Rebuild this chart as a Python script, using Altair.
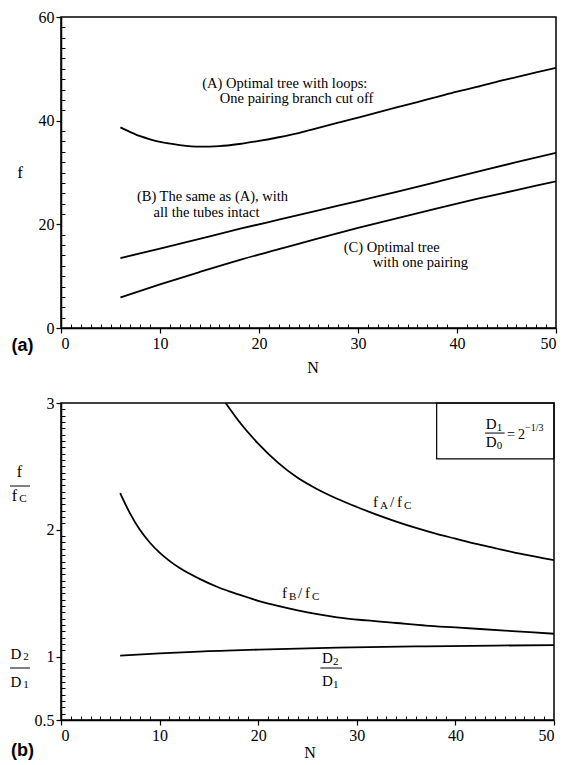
import altair as alt
import pandas as pd

# ---------------- panel (a): f versus N ----------------
N_A = [6, 7, 8, 9, 10, 12, 14, 16, 18, 20, 22, 24, 26, 28, 30, 32, 34, 36, 38, 40, 42, 44, 46, 48, 50]
F_A = [38.7, 37.8, 37.0, 36.4, 35.9, 35.3, 35.0, 35.1, 35.5, 36.1, 36.8, 37.6, 38.6, 39.6, 40.6,
       41.6, 42.6, 43.6, 44.6, 45.6, 46.5, 47.5, 48.4, 49.3, 50.2]
N_B = [6, 10, 14, 18, 22, 26, 30, 34, 38, 42, 46, 50]
F_B = [13.5, 15.3, 17.2, 19.1, 20.9, 22.7, 24.5, 26.3, 28.2, 30.1, 32.0, 33.8]
N_C = [6, 10, 14, 18, 22, 26, 30, 34, 38, 42, 46, 50]
F_C = [5.9, 8.4, 10.8, 13.1, 15.2, 17.3, 19.3, 21.2, 23.1, 24.9, 26.6, 28.3]

# ---------------- panel (b): ratios versus N ----------------
N_AC = [16.7, 18, 20, 22, 24, 26, 28, 30, 32, 34, 36, 38, 40, 42, 44, 46, 48, 50]
R_AC = [3.00, 2.86, 2.68, 2.53, 2.41, 2.32, 2.245, 2.18, 2.12, 2.065, 2.015, 1.97, 1.93, 1.89,
        1.855, 1.82, 1.79, 1.76]
N_BC = [6, 7, 8, 9, 10, 11, 12, 14, 16, 18, 20, 22, 24, 26, 28, 31, 34, 37, 40, 45, 50]
R_BC = [2.29, 2.13, 2.00, 1.90, 1.82, 1.755, 1.70, 1.615, 1.545, 1.49, 1.44, 1.40, 1.365, 1.335,
        1.31, 1.285, 1.265, 1.245, 1.23, 1.205, 1.18]
N_D = [6, 10, 14, 20, 28, 36, 44, 50]
R_D = [1.007, 1.025, 1.04, 1.055, 1.07, 1.08, 1.087, 1.09]

# axis ticks
X_MAJOR = [0, 10, 20, 30, 40, 50]
X_MINOR = [i for i in range(0, 51) if i % 10]
YA_MAJOR = [0, 20, 40, 60]
YA_MINOR = [i for i in range(0, 61, 2) if i % 20]
YB_MAJOR = [0.5, 1, 2, 3]
YB_MINOR = [round(0.5 + 0.05 * i, 2) for i in range(0, 51) if round(0.5 + 0.05 * i, 2) not in (0.5, 1.0, 2.0, 3.0)]

# in-plot annotations of panel (a): text, N, f
ANN_A = [
    ("(A) Optimal tree with loops:", 22.6, 47.1),
    ("One pairing branch cut off", 23.8, 44.2),
    ("(B) The same as (A), with", 15.3, 25.3),
    ("all the tubes intact", 14.7, 22.2),
    ("(C) Optimal tree", 33.4, 15.4),
    ("with one pairing", 36.3, 12.5),
]
# box in panel (b)
BOX_B = dict(N=38.1, N2=50, v=2.56, v2=3.0)

SERIF = "Liberation Serif"
SANS = "Liberation Sans"

xs = alt.Scale(domain=[0, 50], nice=False, zero=False)
ys_a = alt.Scale(domain=[0, 60], nice=False, zero=False)
ys_b = alt.Scale(domain=[0.5, 3], nice=False, zero=False)

W_A, H_A = 495, 311
W_B, H_B = 493, 317


def long_df(pairs):
    rows = []
    for name, ns, vs in pairs:
        for n, v in zip(ns, vs):
            rows.append({"N": n, "v": v, "s": name})
    return pd.DataFrame(rows)


def major_axis(values, orient):
    return alt.Axis(values=values, orient=orient, labelExpr="'' + datum.value", tickSize=5,
                    labelPadding=2, title=None, grid=False)


def minor_axis(values, orient):
    return alt.Axis(values=values, orient=orient, tickSize=4, offset=-4, labels=False,
                    domain=False, title=None, grid=False, tickWidth=1)


def dtext(t, n, v, ys, size=14.5, dx=0, dy=0, align="center", font=SERIF, weight="normal"):
    df = pd.DataFrame({"N": [n], "v": [v], "t": [t]})
    return alt.Chart(df).mark_text(font=font, fontSize=size, dx=dx, dy=dy, align=align,
                                   baseline="middle", color="black", fontWeight=weight).encode(
        x=alt.X("N:Q", scale=xs, axis=None),
        y=alt.Y("v:Q", scale=ys, axis=None),
        text="t:N")


def ptext(t, px, py, size=16, align="center", font=SERIF, weight="normal"):
    df = pd.DataFrame({"t": [t]})
    return alt.Chart(df).mark_text(font=font, fontSize=size, align=align, baseline="middle",
                                   color="black", fontWeight=weight).encode(
        x=alt.value(px), y=alt.value(py), text="t:N")


def prule(x1, x2, y):
    return alt.Chart(pd.DataFrame({"k": [0]})).mark_rule(color="black", strokeWidth=1).encode(
        x=alt.value(x1), x2=alt.value(x2), y=alt.value(y))


def drule(n1, n2, v, ys):
    df = pd.DataFrame({"N": [n1], "N2": [n2], "v": [v]})
    return alt.Chart(df).mark_rule(color="black", strokeWidth=1).encode(
        x=alt.X("N:Q", scale=xs, axis=None), x2="N2:Q",
        y=alt.Y("v:Q", scale=ys, axis=None))


def line_layers(df, ys, ymajor, yminor):
    lines = alt.Chart(df).mark_line(color="black", strokeWidth=1.8, interpolate="monotone",
                                    clip=True).encode(
        x=alt.X("N:Q", scale=xs, axis=major_axis(X_MAJOR, "bottom")),
        y=alt.Y("v:Q", scale=ys, axis=major_axis(ymajor, "left")),
        detail="s:N")
    minor = alt.Chart(df).mark_line(strokeOpacity=0).encode(
        x=alt.X("N:Q", scale=xs, axis=minor_axis(X_MINOR, "bottom")),
        y=alt.Y("v:Q", scale=ys, axis=minor_axis(yminor, "left")),
        detail="s:N")
    return [lines, minor]


# ---------------- top panel ----------------
df_a = long_df([("A", N_A, F_A), ("B", N_B, F_B), ("C", N_C, F_C)])
layers_a = line_layers(df_a, ys_a, YA_MAJOR, YA_MINOR)
for t, n, v in ANN_A:
    layers_a.append(dtext(t, n, v, ys_a))
layers_a += [
    ptext("f", -41, 156, size=17),
    ptext("N", 252, 351, size=16),
    ptext("(a)", -38.5, 329, size=18, font=SANS, weight="bold"),
]
top = alt.layer(*layers_a).resolve_axis(x="independent", y="independent").properties(
    width=W_A, height=H_A)

# ---------------- bottom panel ----------------
df_b = long_df([("AC", N_AC, R_AC), ("BC", N_BC, R_BC), ("D", N_D, R_D)])
layers_b = line_layers(df_b, ys_b, YB_MAJOR, YB_MINOR)

box = alt.Chart(pd.DataFrame([BOX_B])).mark_rect(fillOpacity=0, stroke="black", strokeWidth=1.2).encode(
    x=alt.X("N:Q", scale=xs, axis=None), x2="N2:Q",
    y=alt.Y("v:Q", scale=ys_b, axis=None), y2="v2:Q")
layers_b.append(box)

# f_A / f_C label
layers_b += [
    dtext("f", 31.64, 2.22, ys_b, size=15, align="left"),
    dtext("A", 31.64, 2.22, ys_b, size=11, dx=7, dy=4, align="left"),
    dtext("/", 31.64, 2.22, ys_b, size=15, dx=17, align="left"),
    dtext("f", 31.64, 2.22, ys_b, size=15, dx=24, align="left"),
    dtext("C", 31.64, 2.22, ys_b, size=11, dx=31, dy=4, align="left"),
]
# f_B / f_C label
layers_b += [
    dtext("f", 22.41, 1.50, ys_b, size=15, align="left"),
    dtext("B", 22.41, 1.50, ys_b, size=11, dx=7, dy=4, align="left"),
    dtext("/", 22.41, 1.50, ys_b, size=15, dx=16, align="left"),
    dtext("f", 22.41, 1.50, ys_b, size=15, dx=23, align="left"),
    dtext("C", 22.41, 1.50, ys_b, size=11, dx=30, dy=4, align="left"),
]
# D2 / D1 label in plot
layers_b += [
    dtext("D", 27.38, 0.989, ys_b, size=15, dx=-9, align="left"),
    dtext("2", 27.38, 0.989, ys_b, size=11, dx=2, dy=4, align="left"),
    drule(26.3, 28.5, 0.91, ys_b),
    dtext("D", 27.38, 0.808, ys_b, size=15, dx=-9, align="left"),
    dtext("1", 27.38, 0.808, ys_b, size=11, dx=2, dy=4, align="left"),
]
# D1 / D0 = 2^(-1/3) in box
layers_b += [
    dtext("D", 44.0, 2.834, ys_b, size=15, dx=-9, align="left"),
    dtext("1", 44.0, 2.834, ys_b, size=11, dx=2, dy=4, align="left"),
    drule(43.0, 45.0, 2.763, ys_b),
    dtext("D", 44.0, 2.692, ys_b, size=15, dx=-9, align="left"),
    dtext("0", 44.0, 2.692, ys_b, size=11, dx=2, dy=4, align="left"),
    dtext("=", 44.93, 2.748, ys_b, size=14, dx=3, align="left"),
    dtext("2", 44.93, 2.748, ys_b, size=14, dx=14, align="left"),
    dtext("\u22121/3", 44.93, 2.748, ys_b, size=10, dx=21, dy=-7, align="left"),
]
# outside labels of panel (b)
layers_b += [
    ptext("f", -41.5, 69, size=16),
    prule(-51, -31, 83),
    ptext("f", -46.5, 93, size=16),
    ptext("C", -38, 96, size=11),
    ptext("D", -45, 251, size=15),
    ptext("2", -35, 254, size=11),
    prule(-51, -31, 265),
    ptext("D", -45, 279, size=15),
    ptext("1", -35, 282, size=11),
    ptext("N", 249, 350, size=16),
    ptext("(b)", -38.5, 348, size=18, font=SANS, weight="bold"),
]
bottom = alt.layer(*layers_b).resolve_axis(x="independent", y="independent").properties(
    width=W_B, height=H_B)

chart = alt.vconcat(top, bottom, spacing=17).properties(padding=0).configure_view(
    stroke="black", strokeWidth=1.5
).configure_axis(
    labelFont=SERIF, labelFontSize=16, labelColor="black",
    domainColor="black", domainWidth=1.5, tickColor="black", tickWidth=1.2,
    grid=False,
)

chart.save("out.html", embed_options={"renderer": "svg", "actions": False})
